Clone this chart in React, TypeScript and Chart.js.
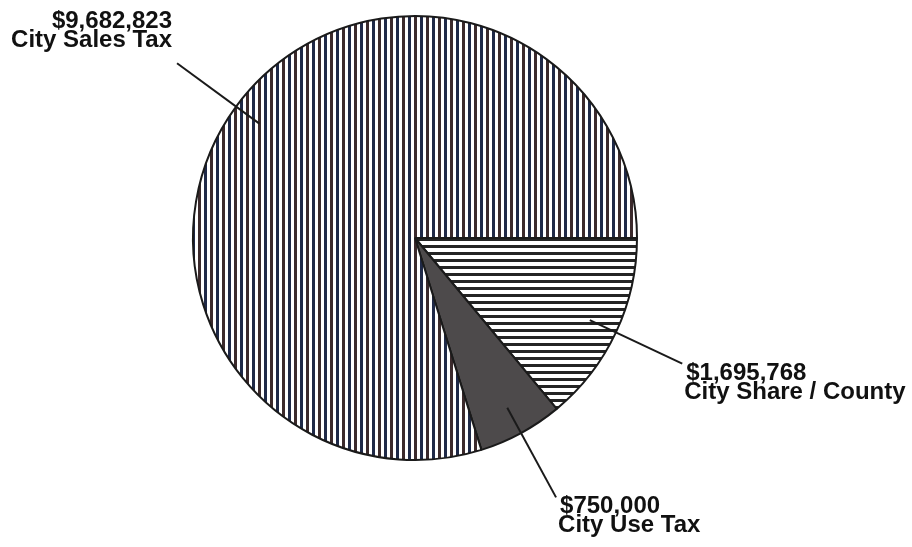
import React, { useEffect, useRef } from "react";
import { Chart, registerables } from "chart.js";

Chart.register(...registerables);

const categories = ["City Share / County", "City Use Tax", "City Sales Tax"];
const values = [1695768, 750000, 9682823];
const valueLabels = ["$1,695,768", "$750,000", "$9,682,823"];

function stripePattern(kind: "v" | "h" | "solid"): CanvasPattern | string {
  if (kind === "solid") return "#4d4a4b";
  const c = document.createElement("canvas");
  const ctx = c.getContext("2d")!;
  if (kind === "v") {
    c.width = 12;
    c.height = 10;
    ctx.fillStyle = "#ffffff";
    ctx.fillRect(0, 0, 12, 10);
    ctx.fillStyle = "#1f2947";
    ctx.fillRect(0, 0, 3, 10);
    ctx.fillStyle = "#3b2a2c";
    ctx.fillRect(6, 0, 3, 10);
  } else {
    c.width = 10;
    c.height = 7;
    ctx.fillStyle = "#ffffff";
    ctx.fillRect(0, 0, 10, 7);
    ctx.fillStyle = "#242424";
    ctx.fillRect(0, 0, 10, 3);
  }
  return ctx.createPattern(c, "repeat")!;
}

const labelPlugin = {
  id: "leaderLabels",
  afterDraw(chart: any) {
    const ctx = chart.ctx as CanvasRenderingContext2D;
    const meta = chart.getDatasetMeta(0);
    ctx.save();
    meta.data.forEach((arc: any, i: number) => {
      const { x, y, startAngle, endAngle, outerRadius } = arc.getProps(
        ["x", "y", "startAngle", "endAngle", "outerRadius"],
        true
      );
      const mid = (startAngle + endAngle) / 2;
      const r0 = outerRadius * 0.87;
      const r1 = outerRadius * 1.33;
      const sx = x + Math.cos(mid) * r0;
      const sy = y + Math.sin(mid) * r0;
      const ex = x + Math.cos(mid) * r1;
      const ey = y + Math.sin(mid) * r1;
      ctx.strokeStyle = "#1a1a1a";
      ctx.lineWidth = 2;
      ctx.beginPath();
      ctx.moveTo(sx, sy);
      ctx.lineTo(ex, ey);
      ctx.stroke();
      ctx.fillStyle = "#111111";
      ctx.font = "bold 24px 'Liberation Sans', Arial, sans-serif";
      ctx.textBaseline = "alphabetic";
      const left = Math.cos(mid) < 0;
      if (left) {
        ctx.textAlign = "right";
        ctx.fillText(valueLabels[i], ex - 5, ey - 35);
        ctx.fillText(categories[i], ex - 5, ey - 16);
      } else {
        ctx.textAlign = "left";
        ctx.fillText(valueLabels[i], ex + 4, ey + 16);
        ctx.fillText(categories[i], ex + 2, ey + 35);
      }
    });
    ctx.restore();
  },
};

export default function App() {
  const ref = useRef<HTMLCanvasElement>(null);
  useEffect(() => {
    if (!ref.current) return;
    const chart = new Chart(ref.current, {
      type: "pie",
      data: {
        labels: categories,
        datasets: [
          {
            data: values,
            backgroundColor: [stripePattern("h"), stripePattern("solid"), stripePattern("v")] as any,
            borderColor: "#1a1a1a",
            borderWidth: 2,
          },
        ],
      },
      options: {
        animation: false,
        responsive: false,
        rotation: 90,
        layout: { padding: { top: 15, bottom: 86, left: 192, right: 274 } },
        plugins: { legend: { display: false }, tooltip: { enabled: false } },
      },
      plugins: [labelPlugin],
    });
    return () => chart.destroy();
  }, []);
  return (
    <div style={{ position: "fixed", left: 0, top: 0, width: 912, height: 547, background: "#fff" }}>
      <canvas ref={ref} width={912} height={547} style={{ display: "block" }} />
    </div>
  );
}
